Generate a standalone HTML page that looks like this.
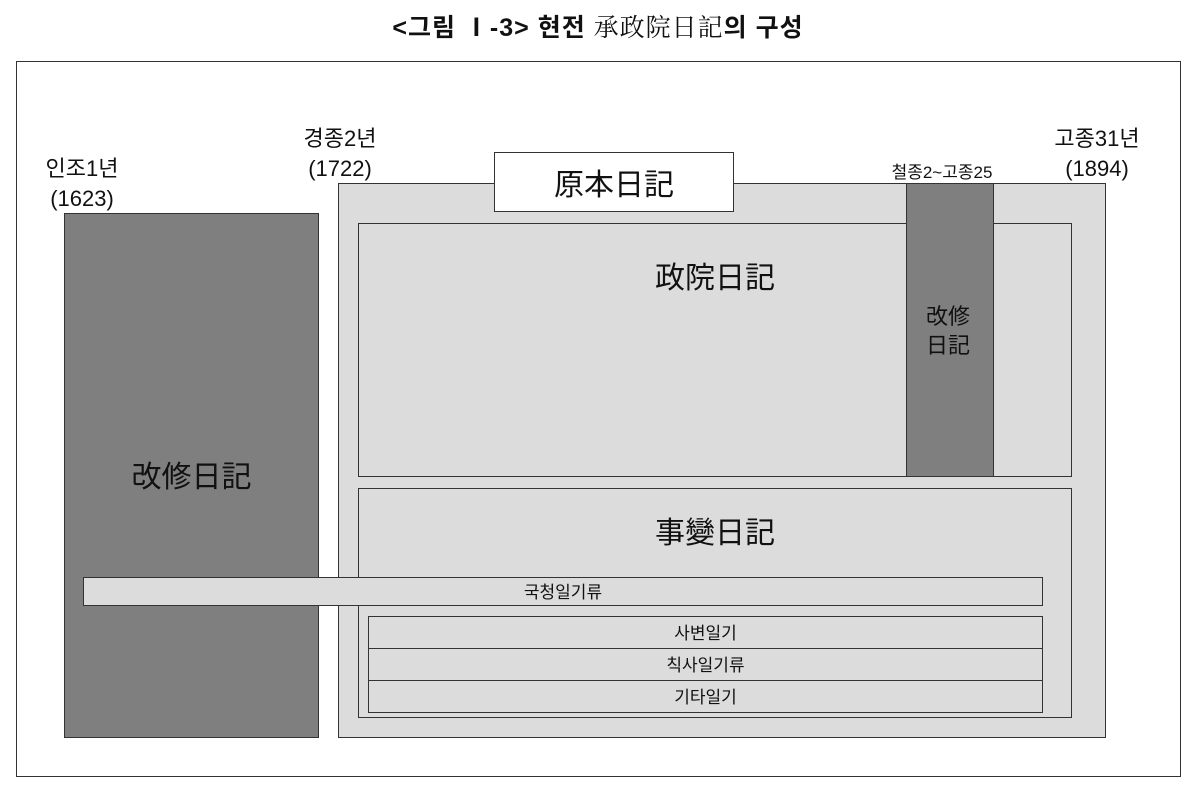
<!DOCTYPE html>
<html><head><meta charset="utf-8"><style>
body{margin:0;width:1196px;height:794px;background:#fff;position:relative;overflow:hidden;font-family:"Liberation Sans","Noto Sans CJK KR",sans-serif;color:#111}
div{position:absolute;box-sizing:border-box}
.b{border:1.5px solid #333}
.d{background:#7f7f7f}
.l{background:#dcdcdc}
.t{text-align:center;white-space:nowrap}
</style></head><body>
<div class="t" style="left:0;width:1196px;top:8px;font-size:25px;font-weight:bold;letter-spacing:1px">&lt;그림 Ⅰ-3&gt; 현전 <span style="font-weight:normal;font-family:'Noto Serif CJK SC',serif">承政院日記</span>의 구성</div>
<div style="left:16px;top:61px;width:1165px;height:716px;border:1.5px solid #333"></div>
<div class="b d" style="left:64px;top:213px;width:255px;height:525px"></div>
<div class="t" style="left:64px;width:255px;top:452px;font-size:30px">改修日記</div>
<div class="b l" style="left:338px;top:183px;width:768px;height:555px"></div>
<div class="b" style="left:494px;top:152px;width:240px;height:60px;background:#fff"></div>
<div class="t" style="left:494px;width:240px;top:160px;font-size:30px">原本日記</div>
<div class="b l" style="left:358px;top:223px;width:714px;height:254px"></div>
<div class="t" style="left:358px;width:714px;top:253px;font-size:30px">政院日記</div>
<div class="b d" style="left:906px;top:183px;width:88px;height:294px"></div>
<div class="t" style="left:904px;width:88px;top:302px;font-size:22px;line-height:29px">改修<br>日記</div>
<div class="b l" style="left:358px;top:488px;width:714px;height:230px"></div>
<div class="t" style="left:358px;width:714px;top:508px;font-size:30px">事變日記</div>
<div class="b l" style="left:83px;top:577px;width:960px;height:29px"></div>
<div class="t" style="left:83px;width:960px;top:578px;font-size:17px">국청일기류</div>
<div class="b l" style="left:368px;top:616px;width:675px;height:33px"></div>
<div class="b l" style="left:368px;top:648px;width:675px;height:33px"></div>
<div class="b l" style="left:368px;top:680px;width:675px;height:33px"></div>
<div class="t" style="left:368px;width:675px;top:619px;font-size:17px">사변일기</div>
<div class="t" style="left:368px;width:675px;top:651px;font-size:17px">칙사일기류</div>
<div class="t" style="left:368px;width:675px;top:683px;font-size:17px">기타일기</div>
<div class="t" style="left:22px;width:120px;top:154px;font-size:22px;line-height:30px">인조1년<br>(1623)</div>
<div class="t" style="left:280px;width:120px;top:124px;font-size:22px;line-height:30px">경종2년<br>(1722)</div>
<div class="t" style="left:1037px;width:120px;top:124px;font-size:22px;line-height:30px">고종31년<br>(1894)</div>
<div class="t" style="left:862px;width:160px;top:158px;font-size:17px">철종2~고종25</div>
</body></html>
